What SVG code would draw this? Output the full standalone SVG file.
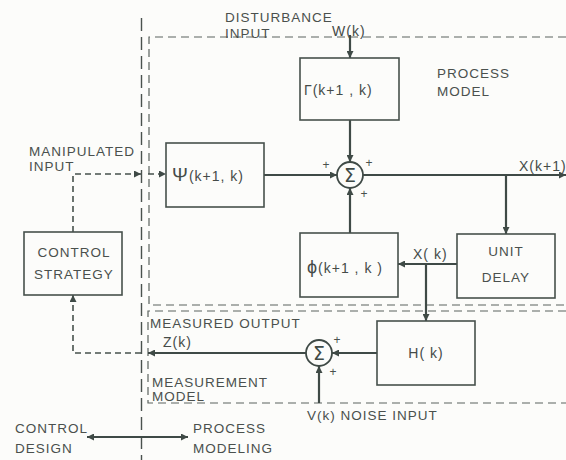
<svg xmlns="http://www.w3.org/2000/svg" width="566" height="460" viewBox="0 0 566 460">
<defs>
<marker id="ah" viewBox="0 0 10 10" refX="10" refY="5" markerWidth="9" markerHeight="7" markerUnits="userSpaceOnUse" orient="auto-start-reverse">
<path d="M0,0 L10,5 L0,10 z" fill="#3f4a46"/>
</marker>
<style>
.t{font-family:"Liberation Sans","DejaVu Sans",sans-serif;font-size:13.5px;fill:#4a504d;letter-spacing:1px}
.s{font-family:"Liberation Sans","DejaVu Sans",sans-serif;font-size:14px;fill:#454b48;letter-spacing:1px}
.p{font-family:"Liberation Sans",sans-serif;font-size:12px;fill:#4a504d}
.box{fill:none;stroke:#46504c;stroke-width:1.6}
.ln{fill:none;stroke:#3f4a46;stroke-width:2.2}
.dl{fill:none;stroke:#46504c;stroke-width:1.6;stroke-dasharray:6 4}
.bd{fill:none;stroke:#5a625e;stroke-width:1.2;stroke-dasharray:8 5}
.vd{fill:none;stroke:#4a524e;stroke-width:1.4;stroke-dasharray:13 6}
</style>
</defs>
<rect width="566" height="460" fill="#fcfcfa"/>

<g id="boundaries">
<path class="vd" d="M141.5,18 V460"/>
<path class="bd" d="M566,37 H149 V305 H566"/>
<path class="bd" d="M566,311 H148 V403 H566"/>
</g>

<g id="connectors">
<path class="ln" d="M350,35 V58" marker-end="url(#ah)"/>
<path class="ln" d="M350,120 V162" marker-end="url(#ah)"/>
<path class="ln" d="M264,175 H337" marker-end="url(#ah)"/>
<path class="ln" d="M363,175 H566" marker-end="url(#ah)"/>
<path class="ln" d="M506,175 V234" marker-end="url(#ah)"/>
<path class="ln" d="M457,264 H398" marker-end="url(#ah)"/>
<path class="ln" d="M350,233 V188" marker-end="url(#ah)"/>
<path class="ln" d="M426,264 V321" marker-end="url(#ah)"/>
<path class="ln" d="M377,353 H332" marker-end="url(#ah)"/>
<path class="ln" d="M319,403 V366" marker-end="url(#ah)"/>
<path class="ln" d="M306,353 H148" marker-end="url(#ah)"/>
<path class="dl" d="M141,353 H73 V295" marker-end="url(#ah)"/>
<path class="dl" d="M73,232 V174 H141" marker-end="url(#ah)"/>
<path class="dl" d="M148,174 H166" marker-end="url(#ah)"/>
<path class="ln" style="stroke-width:1.8" d="M87,437 H188" marker-start="url(#ah)" marker-end="url(#ah)"/>
</g>

<g id="psi">
<rect class="box" x="166" y="143" width="98" height="64"/>
<text class="s" x="172" y="181"><tspan style="font-size:19px">Ψ</tspan>(k+1, k)</text>
</g>
<g id="gamma">
<rect class="box" x="300" y="58" width="99" height="62"/>
<text class="s" x="304" y="95">Γ(k+1 , k)</text>
</g>
<g id="phi">
<rect class="box" x="300" y="233" width="98" height="64"/>
<text class="s" x="307" y="273"><tspan style="font-size:18px">ϕ</tspan>(k+1 , k )</text>
</g>
<g id="unitdelay">
<rect class="box" x="457" y="234" width="98" height="64"/>
<text class="t" x="506" y="256" text-anchor="middle">UNIT</text>
<text class="t" x="506" y="282" text-anchor="middle">DELAY</text>
</g>
<g id="hk">
<rect class="box" x="377" y="321" width="98" height="64"/>
<text class="s" x="426" y="358" text-anchor="middle">H( k)</text>
</g>
<g id="control">
<rect class="box" x="24" y="232" width="98" height="63"/>
<text class="t" x="74" y="257" text-anchor="middle">CONTROL</text>
<text class="t" x="74" y="279" text-anchor="middle">STRATEGY</text>
</g>
<g id="sum1">
<circle cx="350" cy="175" r="13" fill="#fcfcfa" stroke="#3f4a46" stroke-width="1.8"/>
<text x="350" y="182" text-anchor="middle" style="font-family:'DejaVu Sans',sans-serif;font-size:19px;fill:#3f4a46">Σ</text>
<text class="p" x="326" y="169" text-anchor="middle">+</text>
<text class="p" x="369" y="167" text-anchor="middle">+</text>
<text class="p" x="364" y="198" text-anchor="middle">+</text>
</g>
<g id="sum2">
<circle cx="319" cy="353" r="13" fill="#fcfcfa" stroke="#3f4a46" stroke-width="1.8"/>
<text x="319" y="360" text-anchor="middle" style="font-family:'DejaVu Sans',sans-serif;font-size:19px;fill:#3f4a46">Σ</text>
<text class="p" x="337" y="344" text-anchor="middle">+</text>
<text class="p" x="333" y="376" text-anchor="middle">+</text>
</g>

<g id="labels">
<text class="t" x="225" y="22">DISTURBANCE</text>
<text class="t" x="225" y="37.5">INPUT</text>
<text class="s" x="332" y="36">W(k)</text>
<text class="t" x="437" y="78">PROCESS</text>
<text class="t" x="437" y="96">MODEL</text>
<text class="t" x="29" y="156">MANIPULATED</text>
<text class="t" x="29" y="171">INPUT</text>
<text class="s" x="519" y="171">X(k+1)</text>
<text class="s" x="413" y="259">X( k)</text>
<text class="t" x="150" y="328">MEASURED OUTPUT</text>
<text class="s" x="163" y="347">Z(k)</text>
<text class="t" x="152" y="387">MEASUREMENT</text>
<text class="t" x="152" y="401">MODEL</text>
<text class="t" x="307" y="420">V(k) NOISE INPUT</text>
<text class="t" x="15" y="433">CONTROL</text>
<text class="t" x="15" y="453">DESIGN</text>
<text class="t" x="193" y="433">PROCESS</text>
<text class="t" x="193" y="453">MODELING</text>
</g>
</svg>
